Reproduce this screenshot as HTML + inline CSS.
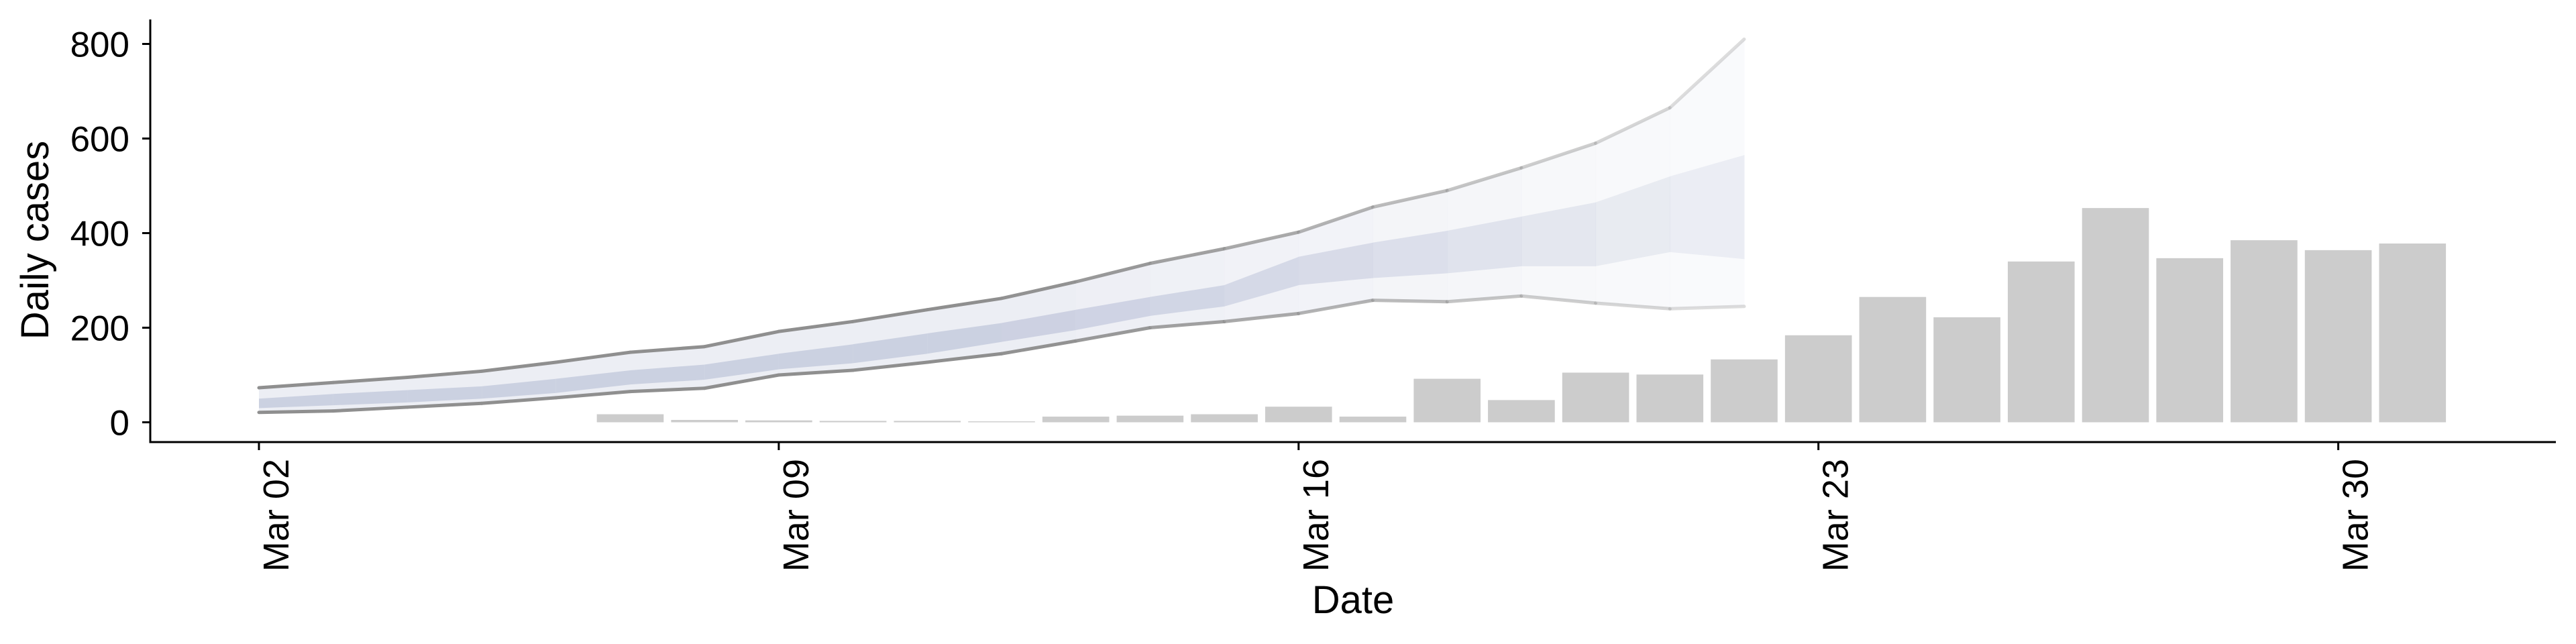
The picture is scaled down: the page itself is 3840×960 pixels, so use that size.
<!DOCTYPE html>
<html><head><meta charset="utf-8"><style>
html,body{margin:0;padding:0;background:#fff;}
svg{display:block;font-family:"Liberation Sans",sans-serif;}
</style></head><body>
<svg id="chart" width="3840" height="960" viewBox="0 0 3840 960" xmlns="http://www.w3.org/2000/svg">
<g id="bands"></g>
<g id="bars"></g>
<g id="axes"></g>
</svg>
<script>
const barDays = [5,6,7,8,9,10,11,12,13,14,15,16,17,18,19,20,21,22,23,24,25,26,27,28,29];
const barValues = [17,5,4,3,3,2,12,14,17,33,12,92,47,105,101,133,184,265,222,340,453,347,385,364,378];
const bandDays = [0,1,2,3,4,5,6,7,8,9,10,11,12,13,14,15,16,17,18,19,20];
const outerUpper = [73,84,95,108,127,148,160,192,213,238,262,297,336,367,402,455,490,538,590,665,810];
const outerLower = [21,24,32,40,52,65,72,100,110,127,145,172,200,213,230,258,255,267,252,240,245];
const innerUpper = [50,60,68,76,92,110,122,145,165,188,210,238,265,290,350,380,405,435,465,520,565];
const innerLower = [30,36,42,50,62,80,90,112,125,145,170,195,225,245,290,305,315,330,330,360,345];
const bandAlpha = [1,1,1,1,1,1,1,1,1,1,1,0.95,0.88,0.8,0.72,0.64,0.56,0.48,0.4,0.33,0.28];
const yTicks = [0,200,400,600,800];
const xTickDays = [0,7,14,21,28];
const xTickLabels = ["Mar 02","Mar 09","Mar 16","Mar 23","Mar 30"];

const NS="http://www.w3.org/2000/svg";
const X0=386, DAY=110.7, Y0=629.5, PER=0.705;
const xs = d => X0 + d*DAY;
const ys = v => Y0 - v*PER;
function mk(tag, attrs, parent){const e=document.createElementNS(NS,tag);for(const k in attrs)e.setAttribute(k,attrs[k]);parent.appendChild(e);return e;}

const gB=document.getElementById('bands');
for(let i=0;i<bandDays.length-1;i++){
  const a=bandDays[i], b=bandDays[i+1], op=(bandAlpha[i]+bandAlpha[i+1])/2;
  const xa=xs(a), xb=xs(b)+0.5;
  const outer=mk('polygon',{points:`${xa},${ys(outerUpper[i])} ${xb},${ys(outerUpper[i+1])} ${xb},${ys(outerLower[i+1])} ${xa},${ys(outerLower[i])}`,fill:'#eceef4','fill-opacity':op},gB);
  
  
  const inner=mk('polygon',{points:`${xa},${ys(innerUpper[i])} ${xb},${ys(innerUpper[i+1])} ${xb},${ys(innerLower[i+1])} ${xa},${ys(innerLower[i])}`,fill:'#c8cddf','fill-opacity':op*0.9},gB);
  
  
  const lu=mk('line',{x1:xa,y1:ys(outerUpper[i]),x2:xs(b),y2:ys(outerUpper[i+1]),stroke:'#8f8f8f','stroke-width':5,'stroke-opacity':op,'stroke-linecap':'round'},gB);
  
  
  const ll=mk('line',{x1:xa,y1:ys(outerLower[i]),x2:xs(b),y2:ys(outerLower[i+1]),stroke:'#8f8f8f','stroke-width':5,'stroke-opacity':op,'stroke-linecap':'round'},gB);
  
  
}

const gR=document.getElementById('bars');
const BW=DAY*0.9;
barDays.forEach((d,i)=>{
  const v=barValues[i];
  const r=mk('rect',{x:xs(d)-BW/2,y:ys(v),width:BW,height:Math.max(0.5,v*PER),fill:'#cccccc'},gR);
  
  
});

const gA=document.getElementById('axes');
const ya=mk('line',{x1:224,y1:29,x2:224,y2:660.5,stroke:'#000','stroke-width':3},gA);


const xa=mk('line',{x1:222.5,y1:659,x2:3810,y2:659,stroke:'#000','stroke-width':3},gA);


yTicks.forEach(v=>{
  const t=mk('line',{x1:212,y1:ys(v),x2:224,y2:ys(v),stroke:'#000','stroke-width':3},gA);
  
  
  const l=mk('text',{x:193,y:ys(v)+19,'text-anchor':'end','font-size':53,fill:'#000'},gA);
  l.textContent=v;
  
  
});
xTickDays.forEach((d,i)=>{
  const t=mk('line',{x1:xs(d),y1:659,x2:xs(d),y2:671,stroke:'#000','stroke-width':3},gA);
  
  
  const l=mk('text',{x:0,y:0,'text-anchor':'end','font-size':54,fill:'#000',transform:`translate(${xs(d)+44},684) rotate(-90)`},gA);
  l.textContent=xTickLabels[i];
  
  
});
const yt=mk('text',{x:0,y:0,'text-anchor':'middle','font-size':58,fill:'#000',transform:'translate(72,358) rotate(-90)'},gA);
yt.textContent='Daily cases';


const xt=mk('text',{x:2017,y:914,'text-anchor':'middle','font-size':58,fill:'#000'},gA);
xt.textContent='Date';


</script>
</body></html>
